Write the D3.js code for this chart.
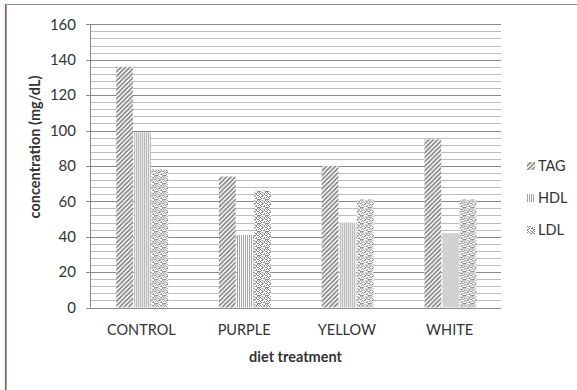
<!DOCTYPE html>
<html>
<head>
<meta charset="utf-8">
<script src="https://cdn.jsdelivr.net/npm/d3@7"></script>
<style>
  html, body { margin: 0; padding: 0; background: #fff; }
  svg { display: block; }
  text { fill: #333; font-family: Lato, "Liberation Sans", sans-serif; }
</style>
</head>
<body>
<svg id="chart" width="577" height="390"></svg>
<script>
// Lipid profile (mg/dL) by diet treatment
const categories = ["CONTROL", "PURPLE", "YELLOW", "WHITE"];
const seriesNames = ["TAG", "HDL", "LDL"];
const tagValues = [136, 74, 80, 95];
const hdlValues = [99, 41, 48, 42];
const ldlValues = [78, 66, 61, 61];
const yTicks = [0, 20, 40, 60, 80, 100, 120, 140, 160];
const yMinorStep = 4;

const seriesValues = { TAG: tagValues, HDL: hdlValues, LDL: ldlValues };

const svg = d3.select("#chart");
const W = 577, H = 390;
const plot = { left: 90, right: 501, top: 24.3, bottom: 307.5 };
const FONT = "Lato, 'Liberation Sans', sans-serif";

svg.append("rect").attr("width", W).attr("height", H).attr("fill", "#fff");

// ---- fill patterns ----
const defs = svg.append("defs");

// TAG: forward diagonal hatch
const pTag = defs.append("pattern").attr("id", "pat-TAG")
  .attr("patternUnits", "userSpaceOnUse").attr("width", 4.5).attr("height", 4.5);
pTag.append("rect").attr("width", 4.5).attr("height", 4.5).attr("fill", "#fff");
pTag.append("path")
  .attr("d", "M0,4.5 L4.5,0 M-1.125,1.125 L1.125,-1.125 M3.375,5.625 L5.625,3.375")
  .attr("stroke", "#7a7a7a").attr("stroke-width", 1.5);

// HDL: fine vertical lines
const pHdl = defs.append("pattern").attr("id", "pat-HDL")
  .attr("patternUnits", "userSpaceOnUse").attr("width", 2).attr("height", 4);
pHdl.append("rect").attr("width", 2).attr("height", 4).attr("fill", "#fff");
pHdl.append("rect").attr("width", 1).attr("height", 4).attr("fill", "#a3a3a3");

// LDL: confetti dots
const confetti = [
  "10010010",
  "01001101",
  "10100100",
  "00011011",
  "10110000",
  "01000101",
  "00101100",
  "11000011"
];
const pLdl = defs.append("pattern").attr("id", "pat-LDL")
  .attr("patternUnits", "userSpaceOnUse").attr("width", 8).attr("height", 8);
pLdl.append("rect").attr("width", 8).attr("height", 8).attr("fill", "#fff");
confetti.forEach((row, r) => {
  row.split("").forEach((c, k) => {
    if (c === "1") pLdl.append("rect").attr("x", k).attr("y", r)
      .attr("width", 1).attr("height", 1).attr("fill", "#8c8c8c");
  });
});

// ---- scales ----
const y = d3.scaleLinear().domain([0, 160]).range([plot.bottom, plot.top]);
const x = d3.scaleBand().domain(categories).range([plot.left, plot.right])
  .paddingInner(0).paddingOuter(0);
const groupW = x.bandwidth() * 0.505;
const xInner = d3.scaleBand().domain(seriesNames).range([0, groupW]).padding(0);

// ---- gridlines ----
const minorVals = d3.range(0, 160 + 0.001, yMinorStep).filter(v => v % 20 !== 0);
svg.append("g").selectAll("line").data(minorVals).join("line")
  .attr("x1", plot.left).attr("x2", plot.right)
  .attr("y1", d => Math.round(y(d)) + 0.5).attr("y2", d => Math.round(y(d)) + 0.5)
  .attr("stroke", "#bdbdbd").attr("stroke-width", 1);

svg.append("g").selectAll("line").data(yTicks.filter(v => v > 0)).join("line")
  .attr("x1", plot.left - 4).attr("x2", plot.right)
  .attr("y1", d => Math.round(y(d)) + 0.5).attr("y2", d => Math.round(y(d)) + 0.5)
  .attr("stroke", "#8a8a8a").attr("stroke-width", 1);

// ---- bars ----
const rows = categories.map((c, i) => ({
  cat: c,
  vals: seriesNames.map(s => ({ s, v: seriesValues[s][i] }))
}));

const groups = svg.append("g").selectAll("g").data(rows).join("g")
  .attr("transform", d => `translate(${x(d.cat) + x.bandwidth() / 2 - groupW / 2 + 0.8},0)`);

groups.selectAll("rect").data(d => d.vals).join("rect")
  .attr("x", d => xInner(d.s) + (d.s === "TAG" ? 0 : 0.6))
  .attr("width", d => xInner.bandwidth() - 0.6)
  .attr("y", d => y(d.v))
  .attr("height", d => y(0) - y(d.v))
  .attr("fill", d => `url(#pat-${d.s})`);

// ---- axes ----
const yAxis = d3.axisLeft(y).tickValues(yTicks).tickSize(0).tickPadding(14)
  .tickFormat(d3.format("d"));
const gy = svg.append("g").attr("transform", `translate(${plot.left},0)`).call(yAxis);
gy.select(".domain").attr("stroke", "#8a8a8a").attr("d", `M0.5,${plot.top}V${plot.bottom}`);
gy.selectAll("text").attr("font-family", FONT).attr("font-size", 15)
  .attr("fill", "#333");

// x baseline
svg.append("line")
  .attr("x1", plot.left - 4).attr("x2", plot.right)
  .attr("y1", Math.round(y(0)) + 0.5).attr("y2", Math.round(y(0)) + 0.5)
  .attr("stroke", "#8a8a8a");

const xAxis = d3.axisBottom(x).tickSize(0).tickPadding(17);
const gx = svg.append("g").attr("transform", `translate(0,${plot.bottom})`).call(xAxis);
gx.select(".domain").remove();
gx.selectAll("text").attr("font-family", FONT).attr("font-size", 14.5)
  .attr("fill", "#333");

// ---- axis titles ----
svg.append("text")
  .attr("x", (plot.left + plot.right) / 2).attr("y", 362)
  .attr("text-anchor", "middle")
  .attr("font-family", FONT).attr("font-weight", "bold").attr("font-size", 14.5)
  .attr("fill", "#111")
  .text("diet treatment");

svg.append("text")
  .attr("transform", "translate(40,147) rotate(-90)")
  .attr("text-anchor", "middle")
  .attr("font-family", FONT).attr("font-weight", "bold").attr("font-size", 14.5)
  .attr("fill", "#111")
  .text("concentration (mg/dL)");

// ---- legend ----
const legend = svg.append("g").selectAll("g").data(seriesNames).join("g")
  .attr("transform", (d, i) => `translate(527,${166 + i * 32})`);
legend.append("rect").attr("x", 0).attr("y", -4).attr("width", 8).attr("height", 8)
  .attr("fill", d => `url(#pat-${d})`);
legend.append("text").attr("x", 11).attr("y", 5)
  .attr("font-family", FONT).attr("font-size", 14.5)
  .attr("fill", "#333")
  .text(d => d);

// ---- frame ----
svg.append("line").attr("x1", 5).attr("x2", W).attr("y1", 4.5).attr("y2", 4.5)
  .attr("stroke", "#8a8a8a");
svg.append("line").attr("x1", 6.5).attr("x2", 6.5).attr("y1", 4).attr("y2", H)
  .attr("stroke", "#9a9a9a");
svg.append("line").attr("x1", 5.5).attr("x2", 5.5).attr("y1", 4).attr("y2", H)
  .attr("stroke", "#e04040");
</script>
</body>
</html>
